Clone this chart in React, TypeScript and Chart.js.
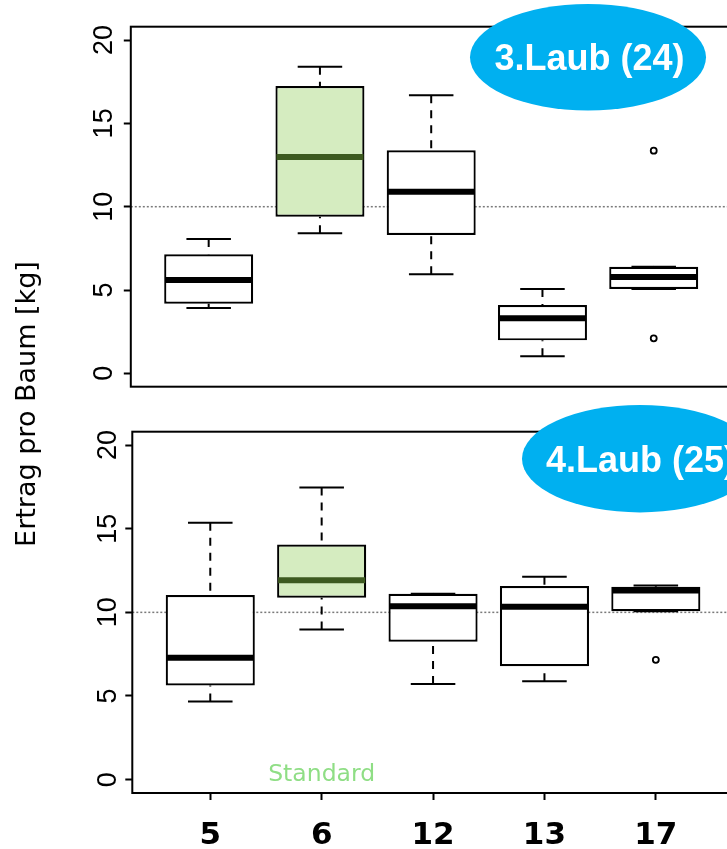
import React, { useEffect, useRef } from 'react';
import { Chart, registerables } from 'chart.js';

Chart.register(...registerables);

// ---------- data ----------
const categories = ['5', '6', '12', '13', '17'];
const yTickValues = [0, 5, 10, 15, 20];
const referenceValue = 10;
const standardCategory = '6';

// 3.Laub (24)
const laub3WhiskerLow = [3.92, 8.4, 5.94, 1.02, 5.06];
const laub3Q1 = [4.18, 9.4, 8.3, 1.98, 5.06];
const laub3Median = [5.6, 12.98, 10.9, 3.3, 5.78];
const laub3Q3 = [7.14, 17.24, 13.38, 4.1, 6.4];
const laub3WhiskerHigh = [8.06, 18.4, 16.68, 5.06, 6.4];
const laub3OutlierCats = ['17', '17'];
const laub3OutlierValues = [13.36, 2.1];

// 4.Laub (25)
const laub4WhiskerLow = [4.67, 8.98, 5.72, 5.88, 10.07];
const laub4Q1 = [5.63, 10.87, 8.24, 6.78, 10.07];
const laub4Median = [7.28, 11.92, 10.36, 10.33, 11.31];
const laub4Q3 = [11.03, 14.05, 11.11, 11.57, 11.53];
const laub4WhiskerHigh = [15.36, 17.46, 11.11, 12.13, 11.6];
const laub4OutlierCats = ['17'];
const laub4OutlierValues = [7.16];

const panelTitles = ['3.Laub (24)', '4.Laub (25)'];
const yAxisTitle = 'Ertrag pro Baum [kg]';
const standardLabel = 'Standard';

// ---------- styling / layout ----------
const W = 760;
const H = 849;
const GREEN_FILL = '#d5ecc0';
const GREEN_MEDIAN = '#3d5a20';
const ELLIPSE_BLUE = '#00b0f0';
const STANDARD_GREEN = '#8fde85';

type Area = { left: number; right: number; top: number; bottom: number };
type Ellipse = { cx: number; cy: number; rx: number; ry: number; textX: number; textY: number };

type PanelSpec = {
  low: number[];
  q1: number[];
  med: number[];
  q3: number[];
  high: number[];
  outCats: string[];
  outVals: number[];
  title: string;
  area: Area;
  showX: boolean;
  yTickPad: number;
  ellipse: Ellipse;
  drawYTitle: boolean;
  drawStandard: boolean;
};

function makePlugin(spec: PanelSpec) {
  return {
    id: 'boxExtras',
    beforeDatasetsDraw(chart: any) {
      const { ctx, chartArea } = chart;
      const y = chart.scales.y.getPixelForValue(referenceValue);
      ctx.save();
      ctx.strokeStyle = '#7a7a7a';
      ctx.lineWidth = 1.5;
      ctx.setLineDash([2, 2]);
      ctx.beginPath();
      ctx.moveTo(chartArea.left, y);
      ctx.lineTo(chartArea.right, y);
      ctx.stroke();
      ctx.restore();
    },
    afterDatasetsDraw(chart: any) {
      const { ctx, chartArea } = chart;
      const ys = chart.scales.y;
      const xs = chart.scales.x;
      const meta = chart.getDatasetMeta(0);
      ctx.save();
      categories.forEach((cat, i) => {
        const el: any = meta.data[i];
        const x = el.x;
        const half = el.width / 2;
        const yLow = ys.getPixelForValue(spec.low[i]);
        const yQ1 = ys.getPixelForValue(spec.q1[i]);
        const yMed = ys.getPixelForValue(spec.med[i]);
        const yQ3 = ys.getPixelForValue(spec.q3[i]);
        const yHigh = ys.getPixelForValue(spec.high[i]);
        // whiskers (dashed) from whisker end to hinge
        ctx.strokeStyle = '#000';
        ctx.lineWidth = 2;
        ctx.setLineDash([8, 7]);
        ctx.beginPath();
        ctx.moveTo(x, yHigh);
        ctx.lineTo(x, yQ3);
        ctx.stroke();
        ctx.beginPath();
        ctx.moveTo(x, yLow);
        ctx.lineTo(x, yQ1);
        ctx.stroke();
        // staples
        ctx.setLineDash([]);
        ctx.beginPath();
        ctx.moveTo(x - half / 2, yHigh);
        ctx.lineTo(x + half / 2, yHigh);
        ctx.moveTo(x - half / 2, yLow);
        ctx.lineTo(x + half / 2, yLow);
        ctx.stroke();
        // median
        ctx.strokeStyle = cat === standardCategory ? GREEN_MEDIAN : '#000';
        ctx.lineWidth = 6;
        ctx.beginPath();
        ctx.moveTo(x - half + 1, yMed);
        ctx.lineTo(x + half - 1, yMed);
        ctx.stroke();
      });
      // frame
      ctx.strokeStyle = '#000';
      ctx.lineWidth = 2;
      ctx.setLineDash([]);
      ctx.strokeRect(chartArea.left, chartArea.top, chartArea.right - chartArea.left, chartArea.bottom - chartArea.top);

      // Standard label
      if (spec.drawStandard) {
        const sx = xs.getPixelForValue(categories.indexOf(standardCategory) + 1);
        ctx.fillStyle = STANDARD_GREEN;
        ctx.font = '23.5px "DejaVu Sans"';
        ctx.textAlign = 'center';
        ctx.textBaseline = 'alphabetic';
        ctx.fillText(standardLabel, sx, ys.getPixelForValue(0) + 1);
      }

      // panel title ellipse
      const e = spec.ellipse;
      ctx.fillStyle = ELLIPSE_BLUE;
      ctx.beginPath();
      ctx.ellipse(e.cx, e.cy, e.rx, e.ry, 0, 0, Math.PI * 2);
      ctx.fill();
      ctx.fillStyle = '#fff';
      ctx.font = 'bold 36px "Liberation Sans"';
      ctx.textAlign = 'center';
      ctx.textBaseline = 'alphabetic';
      ctx.fillText(spec.title, e.textX, e.textY);

      // y axis title spanning both panels
      if (spec.drawYTitle) {
        ctx.save();
        ctx.translate(35, 404);
        ctx.rotate(-Math.PI / 2);
        ctx.fillStyle = '#000';
        ctx.font = '27px "DejaVu Sans"';
        ctx.textAlign = 'center';
        ctx.textBaseline = 'alphabetic';
        ctx.fillText(yAxisTitle, 0, 0);
        ctx.restore();
      }
      ctx.restore();
    },
  };
}

function buildConfig(spec: PanelSpec): any {
  const { area } = spec;
  return {
    type: 'bar',
    data: {
      datasets: [
        {
          type: 'bar',
          data: categories.map((c, i) => ({ x: i + 1, y: [spec.q1[i], spec.q3[i]] })),
          backgroundColor: categories.map((c) => (c === standardCategory ? GREEN_FILL : '#ffffff')),
          borderColor: '#000',
          borderWidth: 2.2,
          borderSkipped: false,
          barPercentage: 0.8,
          categoryPercentage: 1,
          order: 2,
        },
        {
          type: 'scatter',
          data: spec.outCats.map((c, k) => ({ x: categories.indexOf(c) + 1, y: spec.outVals[k] })),
          pointStyle: 'circle',
          pointRadius: 3,
          borderWidth: 1.8,
          borderColor: '#000',
          backgroundColor: '#fff',
          order: 1,
        },
      ],
    },
    options: {
      responsive: false,
      animation: false,
      devicePixelRatio: 1,
      events: [],
      layout: {
        padding: {
          left: 0,
          top: area.top,
          right: W - area.right,
          bottom: spec.showX ? 0 : H - area.bottom,
        },
      },
      plugins: { legend: { display: false }, tooltip: { enabled: false } },
      scales: {
        x: {
          type: 'linear',
          min: 0.3,
          max: 5.7,
          offset: false,
          display: spec.showX,
          afterBuildTicks: (s: any) => {
            s.ticks = categories.map((c, i) => ({ value: i + 1 }));
          },
          afterFit: (s: any) => {
            s.height = spec.showX ? H - area.bottom : 0;
          },
          ticks: {
            callback: (v: number) => categories[Math.round(v) - 1],
            font: { family: 'DejaVu Sans', size: 31, weight: 'bold' },
            color: '#000',
            padding: 17,
            autoSkip: false,
            minRotation: 0,
            maxRotation: 0,
          },
          grid: {
            display: true,
            drawOnChartArea: false,
            offset: false,
            tickLength: 7,
            tickWidth: 2,
            tickColor: '#000',
          },
          border: { display: false },
        },
        y: {
          type: 'linear',
          min: -0.8,
          max: 20.8,
          afterBuildTicks: (s: any) => {
            s.ticks = yTickValues.map((v) => ({ value: v }));
          },
          afterFit: (s: any) => {
            s.width = area.left;
          },
          ticks: {
            callback: (v: number) => String(v),
            font: { family: 'Liberation Sans', size: 27 },
            color: '#000',
            minRotation: 90,
            maxRotation: 90,
            crossAlign: 'center',
            padding: spec.yTickPad,
          },
          grid: {
            display: true,
            drawOnChartArea: false,
            tickLength: 7,
            tickWidth: 2,
            tickColor: '#000',
          },
          border: { display: false },
        },
      },
    },
    plugins: [makePlugin(spec)],
  };
}

const topSpec: PanelSpec = {
  low: laub3WhiskerLow,
  q1: laub3Q1,
  med: laub3Median,
  q3: laub3Q3,
  high: laub3WhiskerHigh,
  outCats: laub3OutlierCats,
  outVals: laub3OutlierValues,
  title: panelTitles[0],
  area: { left: 130.8, right: 731.6, top: 26.7, bottom: 386.7 },
  showX: false,
  yTickPad: 4,
  ellipse: { cx: 588, cy: 57.3, rx: 118, ry: 53.3, textX: 589.5, textY: 70 },
  drawYTitle: true,
  drawStandard: false,
};

const bottomSpec: PanelSpec = {
  low: laub4WhiskerLow,
  q1: laub4Q1,
  med: laub4Median,
  q3: laub4Q3,
  high: laub4WhiskerHigh,
  outCats: laub4OutlierCats,
  outVals: laub4OutlierValues,
  title: panelTitles[1],
  area: { left: 132.3, right: 733.8, top: 431.7, bottom: 793 },
  showX: true,
  yTickPad: 1.5,
  ellipse: { cx: 640, cy: 458.7, rx: 118, ry: 53.7, textX: 641, textY: 471.7 },
  drawYTitle: false,
  drawStandard: true,
};

export default function App() {
  const topRef = useRef<HTMLCanvasElement | null>(null);
  const bottomRef = useRef<HTMLCanvasElement | null>(null);

  useEffect(() => {
    const charts: Chart[] = [];
    if (bottomRef.current) charts.push(new Chart(bottomRef.current, buildConfig(bottomSpec)));
    if (topRef.current) charts.push(new Chart(topRef.current, buildConfig(topSpec)));
    return () => charts.forEach((c) => c.destroy());
  }, []);

  return (
    <div
      style={{
        position: 'fixed',
        left: 0,
        top: 0,
        width: 727,
        height: 849,
        overflow: 'hidden',
        background: '#fff',
      }}
    >
      <canvas ref={bottomRef} width={W} height={H} style={{ position: 'absolute', left: 0, top: 0 }} />
      <canvas ref={topRef} width={W} height={H} style={{ position: 'absolute', left: 0, top: 0 }} />
    </div>
  );
}
